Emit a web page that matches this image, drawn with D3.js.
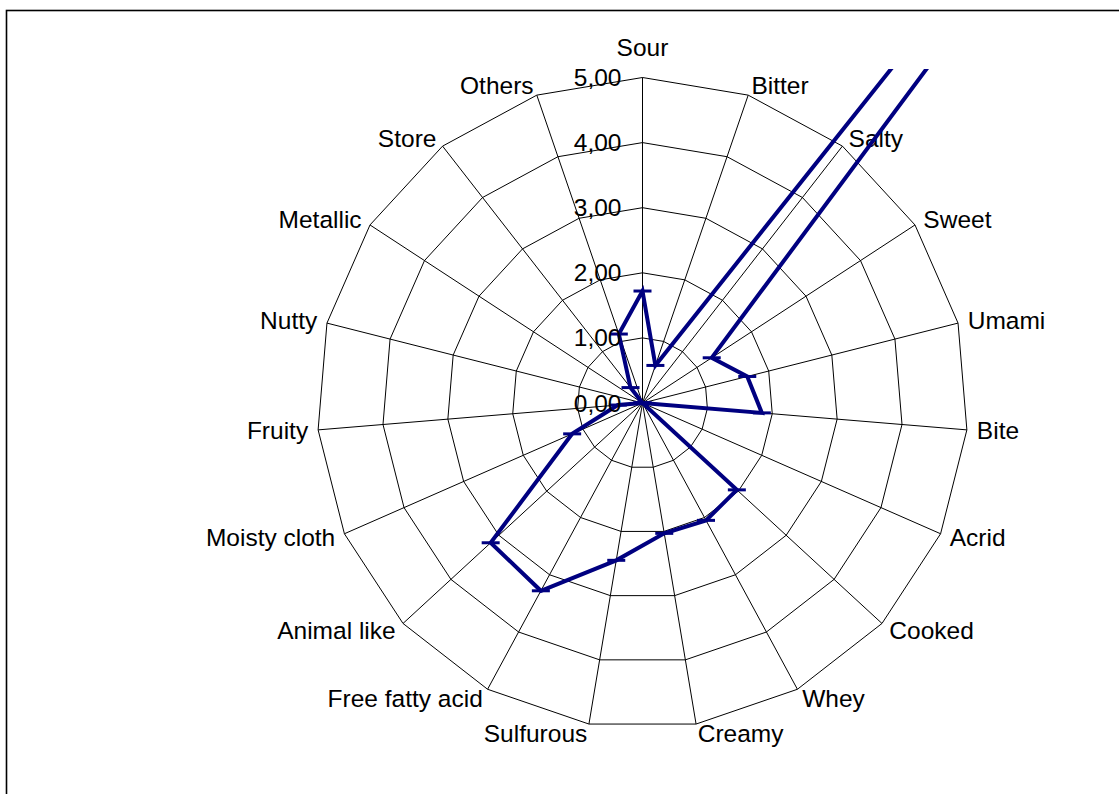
<!DOCTYPE html>
<html>
<head>
<meta charset="utf-8">
<script src="https://cdn.jsdelivr.net/npm/d3@7"></script>
<style>
body { margin: 0; background: #fff; }
text { font-family: "Liberation Sans", Arial, sans-serif; font-size: 24.5px; fill: #000; }
</style>
</head>
<body>
<svg id="chart" width="1119" height="794"></svg>
<script>
var categories = ["Sour", "Bitter", "Salty", "Sweet", "Umami", "Bite", "Acrid", "Cooked",
    "Whey", "Creamy", "Sulfurous", "Free fatty acid", "Animal like", "Moisty cloth",
    "Fruity", "Nutty", "Metallic", "Store", "Others"];
var values = [1.72, 0.61, 20, 1.27, 1.66, 1.84, 0, 1.97,
    2.05, 2.03, 2.45, 3.28, 3.17, 1.18,
    0.38, 0, 0, 0.30, 1.12];
var ticks = [0, 1, 2, 3, 4, 5];
var tickLabels = ["0,00", "1,00", "2,00", "3,00", "4,00", "5,00"];

var width = 1119, height = 794;
var cx = 642.5, cy = 403, radius = 325.5;

var svg = d3.select("#chart");

svg.append("rect")
    .attr("width", width)
    .attr("height", height)
    .attr("fill", "#fff");

// chart area border (runs off the right and bottom of the picture)
svg.append("rect")
    .attr("x", 6.5)
    .attr("y", 10.5)
    .attr("width", 1300)
    .attr("height", 1000)
    .attr("fill", "none")
    .attr("stroke", "#000")
    .attr("stroke-width", 1.6);

// plot area clip: the huge Salty value is cut at the top
svg.append("defs").append("clipPath")
    .attr("id", "plot-clip")
    .append("rect")
    .attr("x", 8)
    .attr("y", 69)
    .attr("width", width)
    .attr("height", height);

var r = d3.scaleLinear().domain([0, 5]).range([0, radius]);
var angle = d3.scaleLinear().domain([0, categories.length]).range([0, 2 * Math.PI]);

function point(i, v) {
    var a = angle(i);
    return [cx + r(v) * Math.sin(a), cy - r(v) * Math.cos(a)];
}

var ring = d3.line().curve(d3.curveLinearClosed);

var grid = svg.append("g")
    .attr("fill", "none")
    .attr("stroke", "#000")
    .attr("stroke-width", 1);

grid.selectAll("path")
    .data(ticks.filter(function(t) { return t > 0; }))
    .enter()
    .append("path")
    .attr("d", function(t) {
        return ring(categories.map(function(c, i) { return point(i, t); }));
    });

grid.selectAll("line")
    .data(categories)
    .enter()
    .append("line")
    .attr("x1", cx)
    .attr("y1", cy)
    .attr("x2", function(c, i) { return point(i, 5)[0]; })
    .attr("y2", function(c, i) { return point(i, 5)[1]; });

// category labels
svg.append("g").selectAll("text")
    .data(categories)
    .enter()
    .append("text")
    .attr("x", function(c, i) { return point(i, 5)[0] + 10 * Math.sin(angle(i)); })
    .attr("y", function(c, i) {
        var y = point(i, 5)[1] - 10 * Math.cos(angle(i));
        if (Math.abs(Math.sin(angle(i))) < 0.05) y -= 20;
        return y;
    })
    .attr("dy", "0.35em")
    .attr("text-anchor", function(c, i) {
        var s = Math.sin(angle(i));
        if (Math.abs(s) < 0.05) return "middle";
        return s > 0 ? "start" : "end";
    })
    .text(function(c) { return c; });

// series
var series = svg.append("g")
    .attr("clip-path", "url(#plot-clip)");

series.append("path")
    .attr("d", ring(values.map(function(v, i) { return point(i, v); })))
    .attr("fill", "none")
    .attr("stroke", "#000080")
    .attr("stroke-width", 4)
    .attr("stroke-linejoin", "miter");

series.selectAll("line")
    .data(values)
    .enter()
    .append("line")
    .attr("x1", function(v, i) { return point(i, v)[0] - 9; })
    .attr("x2", function(v, i) { return point(i, v)[0] + 9; })
    .attr("y1", function(v, i) { return point(i, v)[1]; })
    .attr("y2", function(v, i) { return point(i, v)[1]; })
    .attr("stroke", "#000080")
    .attr("stroke-width", 3);

// value axis labels
svg.append("g").selectAll("text")
    .data(ticks)
    .enter()
    .append("text")
    .attr("x", cx - 21)
    .attr("y", function(t) { return cy - r(t); })
    .attr("dy", "0.35em")
    .attr("text-anchor", "end")
    .text(function(t, i) { return tickLabels[i]; });
</script>
</body>
</html>
